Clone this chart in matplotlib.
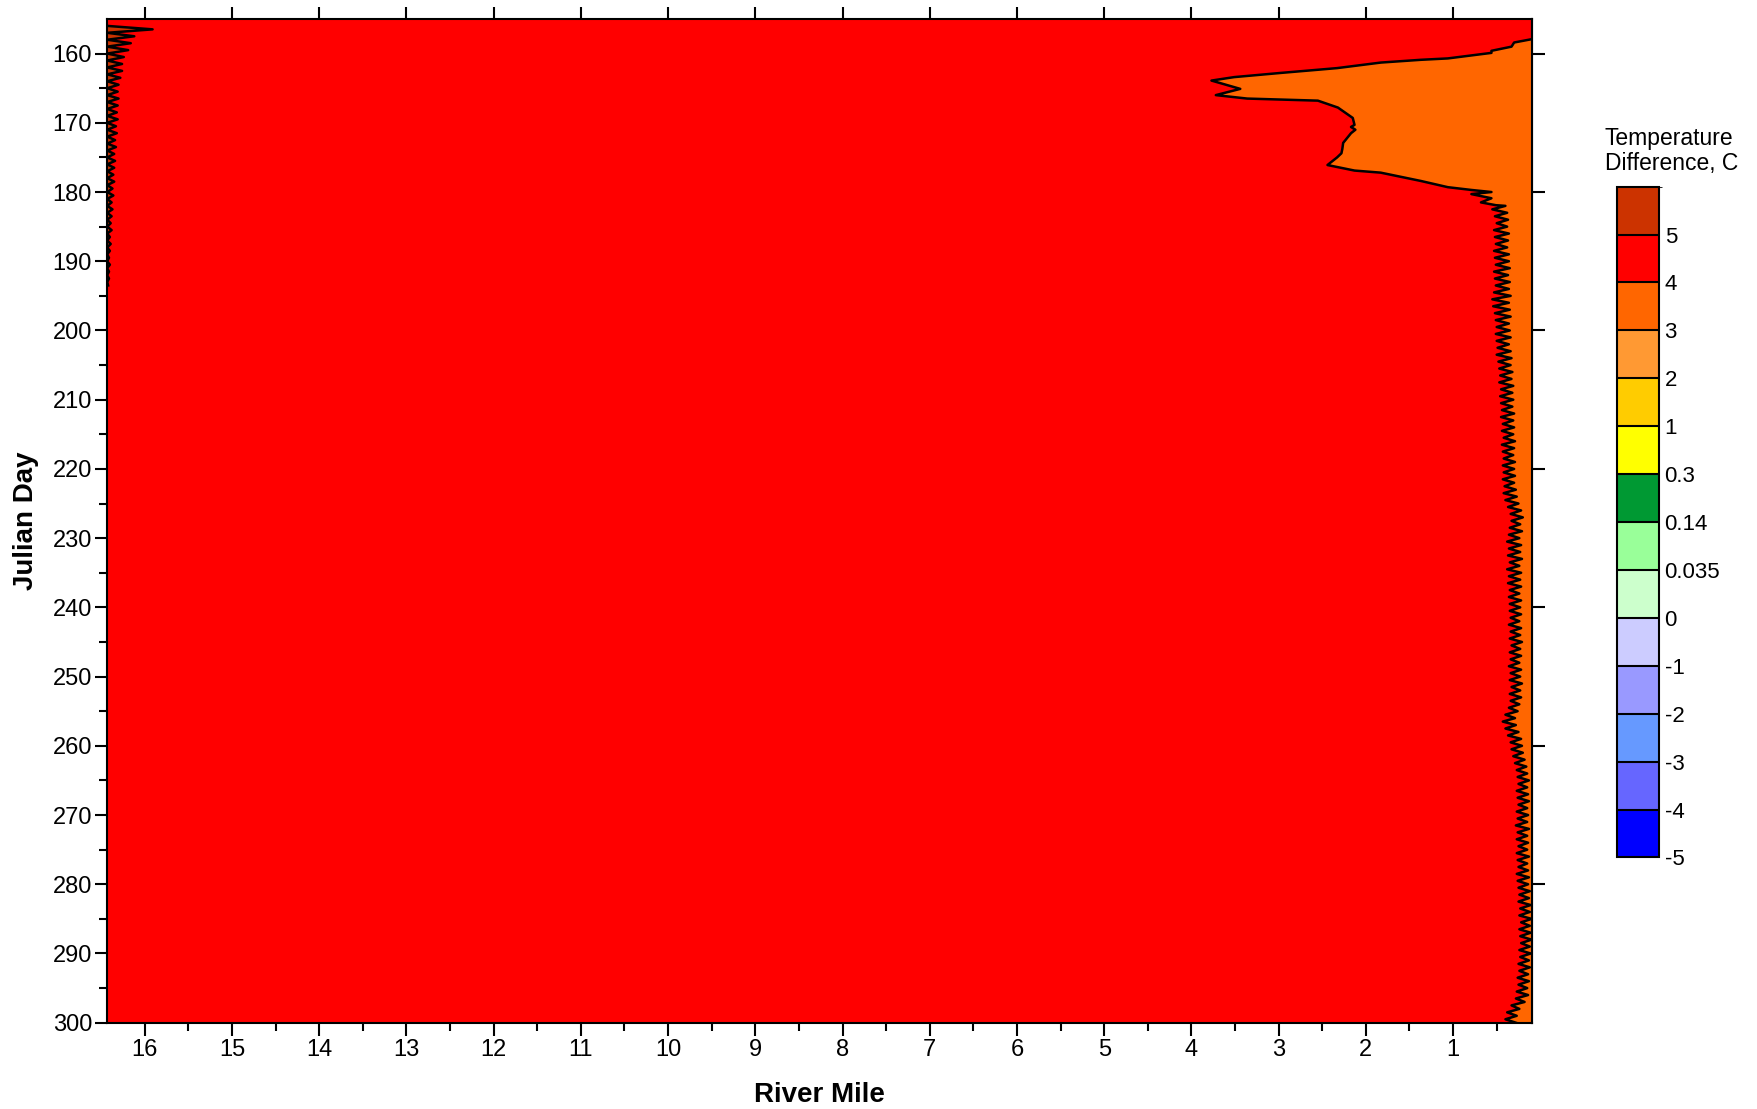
import numpy as np
import matplotlib.pyplot as plt
from matplotlib.colors import ListedColormap, BoundaryNorm
from matplotlib.cm import ScalarMappable

plt.rcParams['font.family'] = ['Liberation Sans', 'DejaVu Sans']

# colour classes of the temperature difference, C
levels = [-5, -4, -3, -2, -1, 0, 0.035, 0.14, 0.3, 1, 2, 3, 4, 5, 6]
level_labels = ['-5', '-4', '-3', '-2', '-1', '0', '0.035', '0.14', '0.3',
                '1', '2', '3', '4', '5']
level_colors = ['#0000FF', '#6666FF', '#6699FF', '#9999FF', '#CCCCFF',
                '#CCFFCC', '#99FF99', '#009933', '#FFFF00', '#FFCC00',
                '#FF9933', '#FF6600', '#FF0000', '#CC3300']

mile_min, mile_max = 0.09, 16.43
day_min, day_max = 155, 300

# 4 C contour near the mouth (3-4 C zone lies downstream of it)
bulge_day = [157.9, 158.4, 159.0, 159.6, 159.9, 160.7, 160.9, 161.3, 162.1,
             162.8, 163.4, 163.9, 165.1, 166.0, 166.5, 166.8, 167.8, 169.3,
             170.3, 170.6, 171.0, 171.5, 172.9, 173.8, 174.4, 175.0, 176.1,
             176.9, 177.2, 178.4, 179.3, 179.7, 180.0, 180.3, 180.9, 181.5,
             181.9]
bulge_mile = [0.09, 0.30, 0.33, 0.56, 0.56, 1.06, 1.37, 1.83, 2.33,
              2.98, 3.51, 3.77, 3.44, 3.72, 3.36, 2.55, 2.32, 2.15,
              2.13, 2.17, 2.12, 2.17, 2.26, 2.27, 2.28, 2.33, 2.44,
              2.13, 1.83, 1.37, 1.06, 0.79, 0.56, 0.79, 0.56, 0.68,
              0.51]

# daily swing of the same contour, days 182-300 (east = night, west = day)
zig_day = np.arange(182, 301)
zig_east = [0.40, 0.38, 0.37, 0.38, 0.36, 0.37, 0.38, 0.36,
            0.36, 0.35, 0.37, 0.35, 0.36, 0.34, 0.36, 0.35, 0.34, 0.36,
            0.35, 0.34, 0.36, 0.34, 0.33, 0.34, 0.32, 0.33, 0.31, 0.32,
            0.31, 0.32, 0.30, 0.31, 0.30, 0.31, 0.29, 0.30, 0.31, 0.29,
            0.30, 0.29, 0.30, 0.28, 0.27, 0.25, 0.22, 0.20, 0.23, 0.21,
            0.24, 0.22, 0.23, 0.21, 0.24, 0.22, 0.23, 0.22, 0.24, 0.22,
            0.23, 0.22, 0.24, 0.22, 0.23, 0.21, 0.23, 0.22, 0.24, 0.22,
            0.23, 0.21, 0.23, 0.22, 0.24, 0.26, 0.29, 0.28, 0.25, 0.22,
            0.21, 0.20, 0.18, 0.16, 0.15, 0.13, 0.15, 0.14, 0.13, 0.15,
            0.14, 0.15, 0.13, 0.15, 0.14, 0.15, 0.13, 0.15, 0.14, 0.13,
            0.14, 0.12, 0.13, 0.11, 0.12, 0.10, 0.12, 0.11, 0.10, 0.12,
            0.11, 0.13, 0.12, 0.14, 0.13, 0.15, 0.14, 0.18, 0.24, 0.27,
            0.28]
zig_west = [0.55, 0.52, 0.50, 0.53, 0.52, 0.51, 0.53, 0.52,
            0.51, 0.53, 0.52, 0.51, 0.53, 0.55, 0.54, 0.52, 0.51, 0.50,
            0.51, 0.50, 0.49, 0.50, 0.48, 0.47, 0.46, 0.47, 0.45, 0.46,
            0.45, 0.44, 0.45, 0.43, 0.44, 0.42, 0.44, 0.43, 0.42, 0.43,
            0.42, 0.43, 0.41, 0.42, 0.40, 0.37, 0.34, 0.33, 0.35, 0.36,
            0.38, 0.36, 0.37, 0.35, 0.38, 0.36, 0.37, 0.35, 0.36, 0.35,
            0.35, 0.34, 0.36, 0.34, 0.35, 0.33, 0.35, 0.34, 0.36, 0.34,
            0.35, 0.33, 0.35, 0.34, 0.36, 0.40, 0.43, 0.40, 0.37, 0.34,
            0.33, 0.31, 0.29, 0.27, 0.26, 0.25, 0.27, 0.26, 0.25, 0.27,
            0.26, 0.28, 0.26, 0.27, 0.25, 0.27, 0.26, 0.25, 0.27, 0.26,
            0.25, 0.24, 0.25, 0.23, 0.24, 0.22, 0.24, 0.23, 0.22, 0.24,
            0.23, 0.25, 0.24, 0.26, 0.25, 0.27, 0.28, 0.33, 0.38, 0.40]

# 5 C contour at the upstream end, daily crests, days 156-193
left_day = np.arange(156, 194)
left_crest = [15.91, 16.12, 16.16, 16.19, 16.24, 16.26, 16.26, 16.28, 16.30,
              16.31, 16.30, 16.31, 16.32, 16.31, 16.33, 16.32, 16.34, 16.33,
              16.35, 16.34, 16.35, 16.36, 16.35, 16.37, 16.36, 16.38, 16.37,
              16.38, 16.39, 16.38, 16.40, 16.39, 16.40, 16.41, 16.40, 16.41,
              16.41, 16.42]

fig = plt.figure(figsize=(17.58, 11.09), dpi=100)
ax = fig.add_axes([0.0610, 0.0778, 0.8107, 0.9051])
ax.set_facecolor(level_colors[12])

# downstream 3-4 C zone
edge_day = list(bulge_day)
edge_mile = list(bulge_mile)
for i, d in enumerate(zig_day):
    edge_day.append(d)
    edge_mile.append(zig_east[i])
    if i < len(zig_west):
        edge_day.append(d + 0.5)
        edge_mile.append(zig_west[i])
ax.fill_betweenx(edge_day, edge_mile, 0.0, color=level_colors[11], lw=0)
ax.plot(edge_mile, edge_day, color='black', lw=1.8)

# upstream slivers above 5 C
up_day, up_mile = [], []
for d, c in zip(left_day, left_crest):
    up_day += [d, d + 0.5]
    up_mile += [mile_max, c]
ax.fill_betweenx(up_day, up_mile, 17.0, color=level_colors[13], lw=0)
ax.plot(up_mile, up_day, color='black', lw=1.8)

ax.set_xlim(mile_max, mile_min)
ax.set_ylim(day_max, day_min)
ax.set_xticks(range(1, 17))
ax.set_xticks(np.arange(0.5, 16.5, 1), minor=True)
ax.set_yticks(range(160, 301, 10))
ax.set_yticks(range(165, 300, 10), minor=True)
ax.tick_params(which='major', direction='out', length=9, width=1.5,
               labelsize=17, top=True)
ax.tick_params(which='minor', direction='out', length=6, width=1.5, top=False)
ax.tick_params(axis='x', which='major', pad=3)
ax.tick_params(axis='y', which='major', pad=2)
for s in ax.spines.values():
    s.set_linewidth(1.5)

sec = ax.secondary_yaxis('right')
sec.set_yticks(range(160, 300, 20))
sec.set_yticklabels([])
sec.tick_params(direction='out', length=9, width=1.5)
sec.spines['right'].set_linewidth(1.5)

ax.set_xlabel('River Mile', fontsize=20, fontweight='bold', labelpad=15)
ax.set_ylabel('Julian Day', fontsize=20, fontweight='bold', labelpad=10)

# colour scale
cax = fig.add_axes([0.9196, 0.2268, 0.0241, 0.6049])
norm = BoundaryNorm(levels, len(level_colors))
cb = fig.colorbar(ScalarMappable(norm=norm, cmap=ListedColormap(level_colors)),
                  cax=cax, boundaries=levels, spacing='uniform',
                  ticks=levels[:-1], drawedges=True)
cb.set_ticklabels(level_labels)
cb.ax.tick_params(length=0, labelsize=16, pad=4)
cb.outline.set_linewidth(1.5)
cb.dividers.set_linewidth(1.5)
fig.text(1605 / 1758, 1 - 151 / 1109, 'Temperature\nDifference, C',
         fontsize=16.5, ha='left', va='center', linespacing=1.1)

fig.savefig('out.png', dpi=100)
